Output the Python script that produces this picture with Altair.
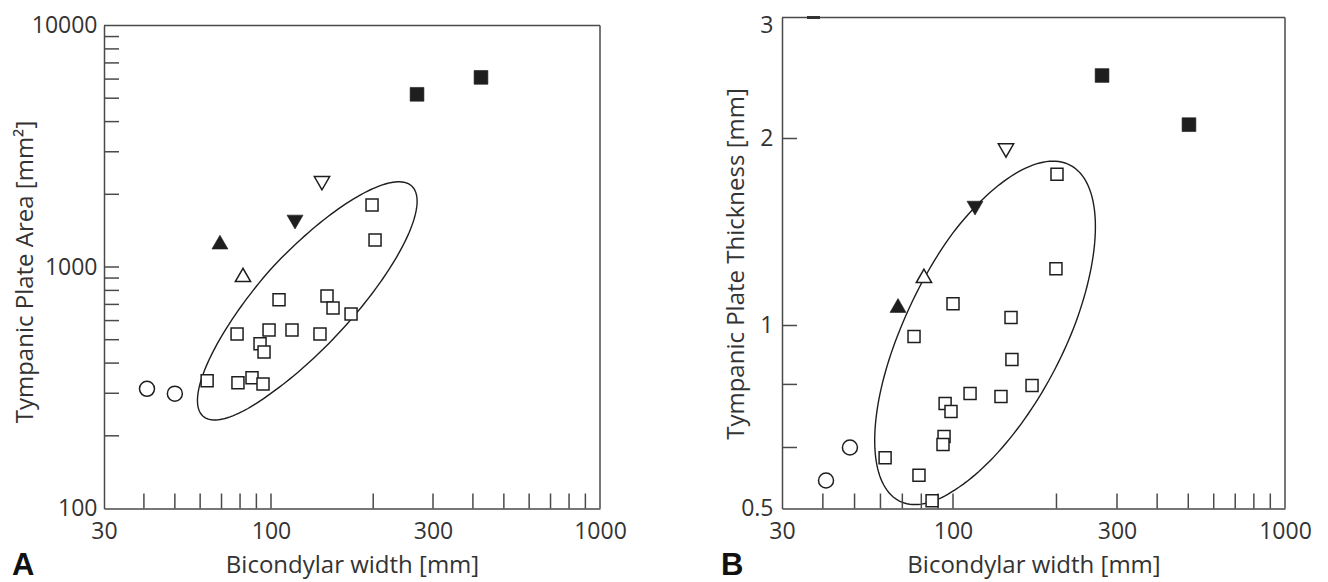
import altair as alt
import numpy as np
import pandas as pd

FONT = "Open Sans"
INK = "#1e1e1e"
AXIS_INK = "#4a4a4a"

# ---------------- shared axis values ----------------
x_label_vals = [30, 100, 300, 1000]
x_minor_ticks = [40, 50, 60, 70, 80, 90, 100, 200, 300, 400, 500, 600, 700, 800, 900]

# ---------------- Panel A: Tympanic Plate Area [mm2] ----------------
a_open_sq_x = [105.6, 146.2, 152.3, 172.1, 139.4, 78.3, 98.6, 115.3, 92.4, 95.1, 63.1, 78.8, 87.2, 94.4, 198.4, 202.5]
a_open_sq_y = [731, 759, 677, 639, 528, 528, 549, 549, 481, 445, 338, 332, 348, 328, 1804, 1293]
a_fill_sq_x = [269.2, 424]
a_fill_sq_y = [5188, 6098]
a_circle_x = [40.9, 50.0]
a_circle_y = [313, 299]
a_fill_up_x = [69.2]
a_fill_up_y = [1268]
a_open_up_x = [81.7]
a_open_up_y = [927]
a_fill_dn_x = [117.7]
a_fill_dn_y = [1535]
a_open_dn_x = [141.3]
a_open_dn_y = [2224]
a_y_label_vals = [100, 1000, 10000]
a_y_minor_ticks = [200, 300, 400, 500, 600, 700, 800, 900, 1000, 2000, 3000, 4000, 5000, 6000, 7000, 8000, 9000]
# ellipse: centre (x, y) and axes in log10 decades
a_ell_center = (125.9, 724)
a_ell_axes = (0.3136, 0.1037, 0.4765, -0.127)

# ---------------- Panel B: Tympanic Plate Thickness [mm] ----------------
b_open_sq_x = [200.7, 199.3, 100, 76.0, 147.5, 148.4, 169.8, 112.1, 137.9, 94.6, 98.6, 93.9, 93.2, 62.0, 78.7, 86.3]
b_open_sq_y = [1.752, 1.234, 1.084, 0.959, 1.030, 0.879, 0.797, 0.773, 0.764, 0.744, 0.722, 0.657, 0.637, 0.606, 0.567, 0.515]
b_fill_sq_x = [271.4, 502.5]
b_fill_sq_y = [2.47, 2.095]
b_circle_x = [48.4, 40.9]
b_circle_y = [0.630, 0.556]
b_fill_up_x = [67.9]
b_fill_up_y = [1.077]
b_open_up_x = [81.5]
b_open_up_y = [1.202]
b_fill_dn_x = [115.9]
b_fill_dn_y = [1.545]
b_open_dn_x = [142.6]
b_open_dn_y = [1.913]
b_y_label_vals = [0.5, 1, 2, 3]
b_y_minor_ticks = [0.63, 0.8, 1, 2]
b_ell_center = (122.3, 0.966)
b_ell_axes = (0.2513, 0.209, 0.2737, -0.0569)

X_TITLE = "Bicondylar width [mm]"


def ellipse_df(center, axes, n=181):
    cx, cy = center
    A, B, C, D = axes
    t = np.linspace(0, 2 * np.pi, n)
    return pd.DataFrame({
        "x": cx * 10 ** (A * np.cos(t) + B * np.sin(t)),
        "y": cy * 10 ** (C * np.cos(t) + D * np.sin(t)),
        "i": np.arange(n),
    })


def make_panel(groups, xscale, yscale, W, H, y_title, y_vals, y_fmt, y_lab_pad,
               ytitle_x, ytitle_y, y_minor, frame_top, ell, letter, letter_x, top_dash=False):
    x_axis = alt.Axis(values=x_label_vals, format="d", ticks=False, tickSize=0,
                      labelFlush=False, labelOverlap=False, labelPadding=12,
                      titleY=45)
    y_axis = alt.Axis(values=y_vals, format=y_fmt, ticks=False, tickSize=0,
                      labelFlush=False, labelOverlap=False, labelPadding=y_lab_pad,
                      labelOffset={"condition": {"test": "datum.value == 3", "value": 8}, "value": 0},
                      titleX=ytitle_x, titleY=ytitle_y)

    def X(field):
        return alt.X(field, scale=xscale, axis=x_axis, title=X_TITLE)

    def Y(field):
        return alt.Y(field, scale=yscale, axis=y_axis, title=y_title)

    layers = []
    # ellipse
    layers.append(
        alt.Chart(ell).mark_line(color=INK, strokeWidth=1.4, clip=False).encode(
            x=X("x:Q"), y=Y("y:Q"), order="i:Q",
        )
    )
    # inward ticks
    layers.append(
        alt.Chart(pd.DataFrame({"v": x_minor_ticks})).mark_rule(color=AXIS_INK, strokeWidth=1.5).encode(
            x=X("v:Q"), y=alt.value(H), y2=alt.value(H - 15),
        )
    )
    layers.append(
        alt.Chart(pd.DataFrame({"v": y_minor})).mark_rule(color=AXIS_INK, strokeWidth=1.5).encode(
            y=Y("v:Q"), x=alt.value(0), x2=alt.value(15),
        )
    )
    # frame: top and right
    layers.append(
        alt.Chart(pd.DataFrame({"v": [frame_top]})).mark_rule(color=AXIS_INK, strokeWidth=1.5).encode(
            y=Y("v:Q"), x=alt.value(0), x2=alt.value(W),
        )
    )
    if top_dash:
        layers.append(
            alt.Chart(pd.DataFrame({"v": [frame_top]})).mark_rule(color="#333333", strokeWidth=3).encode(
                y=Y("v:Q"), x=alt.value(25), x2=alt.value(38),
            )
        )
    layers.append(
        alt.Chart(pd.DataFrame({"xv": [1000], "y1": [frame_top], "y2": [y_vals[0]]})).mark_rule(
            color=AXIS_INK, strokeWidth=1.5).encode(
            x=X("xv:Q"), y=Y("y1:Q"), y2="y2:Q",
        )
    )
    # symbols
    for xs, ys, shape, size, filled in groups:
        df = pd.DataFrame({"x": xs, "y": ys})
        layers.append(
            alt.Chart(df).mark_point(
                shape=shape, size=size, filled=True,
                fill=INK if filled else "white", stroke=INK,
                strokeWidth=0.6 if filled else 1.5, opacity=1, clip=False,
            ).encode(x=X("x:Q"), y=Y("y:Q"))
        )
    # panel letter
    layers.append(
        alt.Chart(pd.DataFrame({"t": [letter]})).mark_text(
            font="Liberation Sans", fontWeight="bold", fontSize=31, align="left",
            baseline="alphabetic", color="#111111",
        ).encode(text="t:N", x=alt.value(letter_x), y=alt.value(557))
    )
    return alt.layer(*layers).properties(width=W, height=H)


SQ, FSQ, CI, TRI_O, TRI_F = 144, 190, 225, 235, 256

a_groups = [
    (a_open_sq_x, a_open_sq_y, "square", SQ, False),
    (a_fill_sq_x, a_fill_sq_y, "square", FSQ, True),
    (a_circle_x, a_circle_y, "circle", CI, False),
    (a_fill_up_x, a_fill_up_y, "triangle-up", TRI_F, True),
    (a_open_up_x, a_open_up_y, "triangle-up", TRI_O, False),
    (a_fill_dn_x, a_fill_dn_y, "triangle-down", TRI_F, True),
    (a_open_dn_x, a_open_dn_y, "triangle-down", TRI_O, False),
]
b_groups = [
    (b_open_sq_x, b_open_sq_y, "square", SQ, False),
    (b_fill_sq_x, b_fill_sq_y, "square", FSQ, True),
    (b_circle_x, b_circle_y, "circle", CI, False),
    (b_fill_up_x, b_fill_up_y, "triangle-up", TRI_F, True),
    (b_open_up_x, b_open_up_y, "triangle-up", TRI_O, False),
    (b_fill_dn_x, b_fill_dn_y, "triangle-down", TRI_F, True),
    (b_open_dn_x, b_open_dn_y, "triangle-down", TRI_O, False),
]

AW, BW, H = 496, 503, 491
a_x = alt.Scale(type="log", domain=[30, 100, 300, 1000], range=[0, 167, 329, AW], nice=False)
a_y = alt.Scale(type="log", domain=[100, 10000], range=[H, 8], nice=False)
b_x = alt.Scale(type="log", domain=[30, 100, 300, 1000], range=[0, 171, 335, BW], nice=False)
b_y = alt.Scale(type="log", domain=[0.5, 1, 2, 3], range=[H, 308, 121, 0], nice=False)

panel_a = make_panel(a_groups, a_x, a_y, AW, H, "Tympanic Plate Area [mm²]", a_y_label_vals, "d", 7,
                     -67, 254, a_y_minor_ticks, 10000,
                     ellipse_df(a_ell_center, a_ell_axes), "A", -92)
panel_b = make_panel(b_groups, b_x, b_y, BW, H, "Tympanic Plate Thickness [mm]", b_y_label_vals, "~g", 9,
                     -34, 246, b_y_minor_ticks, 3,
                     ellipse_df(b_ell_center, b_ell_axes), "B", -61, top_dash=True)

chart = alt.hconcat(panel_a, panel_b, spacing=182, bounds="flush").properties(
    padding={"left": 4, "top": 6.5, "right": 5, "bottom": 0}
).configure_view(stroke=None).configure_axis(
    grid=False, domainColor=AXIS_INK, domainWidth=1.5,
    labelFont=FONT, labelFontSize=23, labelColor="#333333",
    titleFont=FONT, titleFontSize=24, titleFontWeight="normal", titleColor="#333333",
)

chart.save("out.html", embed_options={"renderer": "svg", "actions": False})
